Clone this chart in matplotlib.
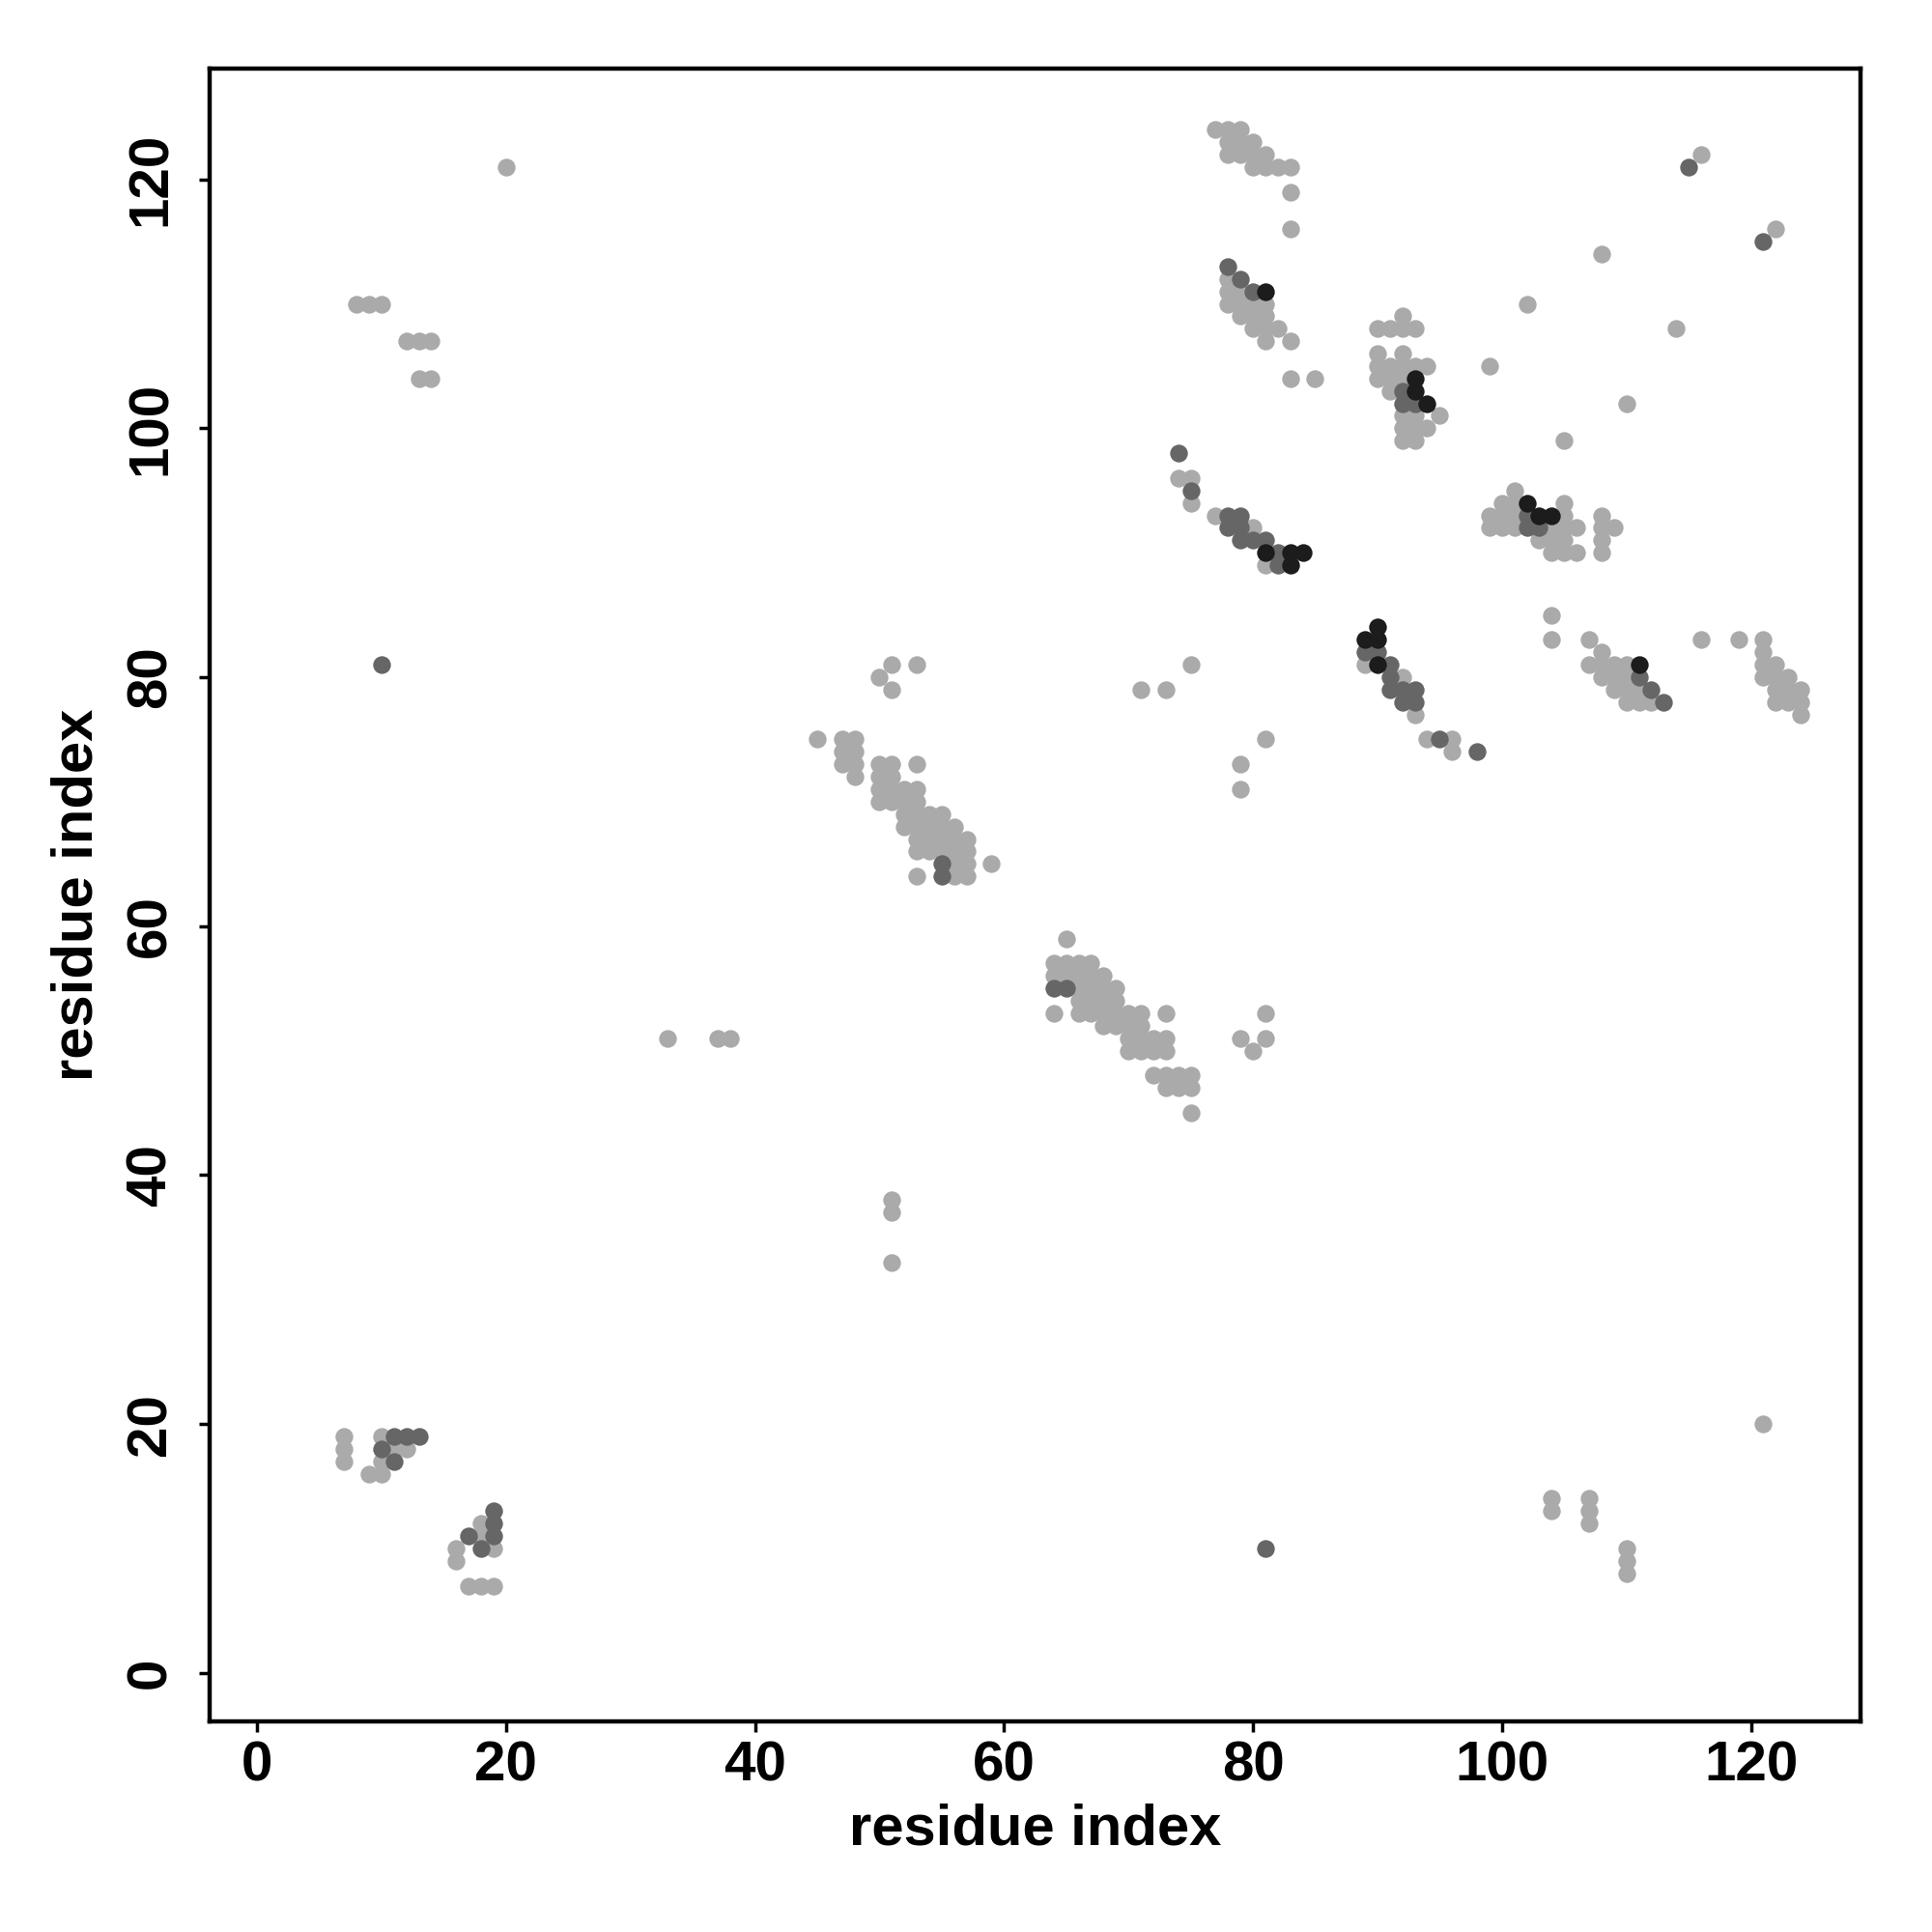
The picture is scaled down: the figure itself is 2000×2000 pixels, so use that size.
import matplotlib
matplotlib.use('Agg')
import matplotlib.pyplot as plt

plt.rcParams['font.family'] = ['Liberation Sans', 'DejaVu Sans']
plt.rcParams['font.weight'] = 'bold'

# contact pairs (residue i, residue j), grouped by gray level
light_x = [7, 7, 7, 10, 11, 12, 10, 9, 10,
           18, 18, 19, 16, 16, 17, 18, 19,
           20, 8, 9, 10, 12, 13, 14, 13, 14,
           33, 37, 38, 51, 51, 51,
           51, 53, 50, 51, 45, 47, 48, 47, 48, 47, 48, 48, 50, 51, 53, 50, 51, 50, 51, 52, 53,
           50, 51, 52, 53, 52, 53, 54, 55, 52, 53, 54, 55, 56, 53, 54, 55, 56, 57,
           53, 54, 55, 56, 57, 56, 57, 59, 53, 56, 57,
           65, 64, 65, 66, 67, 64, 65, 66, 67, 68, 66, 67, 68, 69, 66, 67, 68, 69,
           64, 66, 67, 68, 69, 70, 71, 73, 68, 69, 70, 71, 70, 71, 72, 73, 70, 71, 72, 73,
           72, 73, 74, 75, 73, 74, 75, 75,
           79, 80, 81, 81, 71, 73, 75, 79, 79, 81,
           74, 75, 75, 77, 80, 81,
           77, 78, 79, 78, 79, 80, 78, 79, 80, 81, 80, 81, 82, 83, 83, 83,
           78, 78, 79, 78, 79, 80, 81, 79, 80, 81, 80, 81, 82, 81, 83, 83, 85,
           92, 90, 91, 92, 93, 90, 92, 90, 91, 92, 93, 94, 90, 91, 92, 91, 92, 93, 95,
           92, 93, 94, 92, 93,
           101, 100, 101, 99, 100, 101, 105, 105, 99, 100, 101, 104, 105, 106, 103, 104, 105,
           104, 105, 106, 108, 108, 109, 108, 108,
           99, 102, 108, 105, 110, 114, 116, 122,
           89, 92, 93, 94, 96, 96,
           104, 104, 107, 108, 107, 108, 109, 110, 108, 109, 110, 109, 110, 111, 110, 111, 112,
           116, 119, 121, 121, 121, 122, 121, 122, 123, 122, 123, 124, 122, 123, 124, 124,
           121, 104, 104, 107, 107, 107, 110, 110, 110]
light_y = [19, 18, 17, 19, 18, 18, 17, 16, 16,
           12, 11, 10, 10, 9, 7, 7, 7,
           121, 110, 110, 110, 107, 107, 107, 104, 104,
           51, 51, 51, 38, 37, 33,
           81, 81, 80, 79, 75, 75, 75, 74, 74, 73, 73, 72, 73, 73, 73, 72, 72, 71, 71, 71, 71,
           70, 70, 70, 70, 69, 69, 69, 69, 68, 68, 68, 68, 68, 67, 67, 67, 67, 67,
           66, 66, 66, 66, 66, 65, 65, 65, 64, 64, 64,
           59, 57, 57, 57, 57, 56, 56, 56, 56, 56, 55, 55, 55, 55, 54, 54, 54, 54,
           53, 53, 53, 53, 53, 53, 53, 53, 52, 52, 52, 52, 51, 51, 51, 51, 50, 50, 50, 50,
           48, 48, 48, 48, 47, 47, 47, 45,
           51, 50, 51, 53, 79, 79, 81, 73, 71, 75,
           96, 96, 94, 93, 92, 89,
           124, 124, 124, 123, 123, 123, 122, 122, 122, 122, 121, 121, 121, 121, 119, 116,
           112, 111, 111, 110, 110, 110, 110, 109, 109, 109, 108, 108, 108, 107, 107, 104, 104,
           109, 108, 108, 108, 108, 106, 106, 105, 105, 105, 105, 105, 104, 104, 104, 103, 101, 101, 101,
           100, 100, 100, 99, 99,
           95, 94, 94, 93, 93, 93, 94, 93, 92, 92, 92, 92, 92, 92, 91, 91, 91,
           90, 90, 90, 93, 92, 92, 91, 90,
           105, 110, 114, 99, 102, 108, 122, 116,
           81, 80, 77, 75, 75, 74,
           85, 83, 83, 82, 81, 81, 81, 81, 80, 80, 80, 79, 79, 79, 78, 78, 78,
           83, 83, 83, 82, 81, 81, 80, 80, 80, 79, 79, 79, 78, 78, 78, 77,
           20, 14, 13, 14, 13, 12, 10, 9, 8]

mid_x = [11, 12, 13, 10, 11, 19, 19, 19, 17, 18, 10, 81, 55, 55, 64, 65,
         74, 75, 78, 79, 78, 79, 79, 80, 81, 82, 82, 78, 79, 80,
         92, 92, 93, 102, 102, 103, 89, 90, 91, 91, 91, 92, 93, 92, 93,
         95, 98, 111, 112, 113, 115, 121]
mid_y = [19, 19, 19, 18, 17, 13, 12, 11, 11, 10, 81, 10, 65, 64, 55, 55,
         98, 95, 93, 93, 92, 92, 91, 91, 91, 90, 89, 113, 112, 111,
         103, 102, 102, 93, 92, 92, 82, 82, 81, 80, 79, 79, 79, 78, 78,
         75, 74, 80, 79, 78, 121, 115]

dark_x = [81, 93, 93, 94, 102, 103, 104, 90, 89, 90, 90, 81, 83, 84, 83, 111]
dark_y = [111, 104, 103, 102, 94, 93, 93, 84, 83, 83, 81, 90, 90, 90, 89, 81]

fig = plt.figure(figsize=(20, 20), dpi=100)
ax = fig.add_axes([0.1085, 0.109, 0.8545, 0.8555])

ax.scatter(light_x, light_y, s=175, c='#aaaaaa', linewidths=0)
ax.scatter(mid_x, mid_y, s=175, c='#666666', linewidths=0)
ax.scatter(dark_x, dark_y, s=175, c='#1c1c1c', linewidths=0)

ax.set_xlim(-3.8, 128.8)
ax.set_ylim(-3.9, 128.9)
ax.set_xticks(range(0, 121, 20))
ax.set_yticks(range(0, 121, 20))
for lab in ax.get_yticklabels():
    lab.set_rotation(90)
    lab.set_va('center')
ax.tick_params(labelsize=42, width=2.5, length=8)
ax.tick_params(axis='x', pad=6)
ax.tick_params(axis='y', pad=16)
for sp in ax.spines.values():
    sp.set_linewidth(3.2)

ax.set_xlabel('residue index', fontsize=43, fontweight='bold', labelpad=8)
ax.set_ylabel('residue index', fontsize=43, fontweight='bold', labelpad=16)

fig.savefig('out.png', dpi=100, facecolor='white')
